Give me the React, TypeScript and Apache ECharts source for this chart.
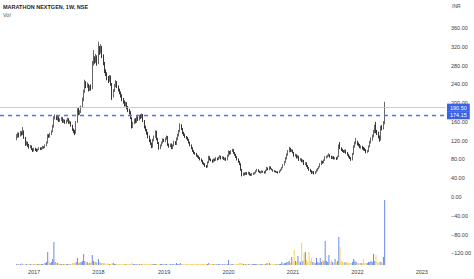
import React, { useEffect, useRef } from "react";
import * as echarts from "echarts";

const TITLE = "MARATHON NEXTGEN, 1W, NSE";
const VOL_LABEL = "Vol";
const CURRENCY = "INR";
const FIRST_CANDLE_DATE = "2016-09-26";
const PAD_WEEKS = 13;
const TOTAL_WEEKS = 360;
const FIRST_OPEN = 125;
const LAST_PRICE = 190.5;
const LEVEL_PRICE = 174.15;

const closes = [
  128,135,130,138,134,140,126,112,116,110,
  106,108,102,99,103,100,98,101,104,102,
  104,106,105,110,115,131,128,134,139,150,
  168,172,166,170,162,165,168,160,163,158,
  162,166,158,160,152,143,140,136,160,185,
  178,181,192,207,225,243,236,239,228,235,
  232,285,295,290,299,285,315,310,320,300,
  285,267,262,254,248,256,240,215,228,238,
  245,235,228,222,215,207,203,196,200,190,
  185,180,168,149,158,164,160,170,166,172,
  170,175,162,149,142,136,128,120,114,107,
  122,128,139,124,115,104,110,116,122,120,
  125,128,111,108,112,104,110,117,113,124,
  132,140,153,145,136,132,128,125,122,116,
  110,104,98,94,92,88,86,83,80,77,
  72,70,66,64,74,85,80,78,75,80,
  78,83,80,83,86,82,85,80,82,79,
  88,96,92,98,100,94,90,85,80,75,
  70,58,47,50,48,51,49,52,48,47,
  49,50,51,55,58,54,52,53,55,53,
  51,56,62,58,64,60,58,55,54,53,
  53,52,55,58,62,68,75,82,90,97,
  104,98,100,95,88,90,84,87,79,80,
  76,78,70,72,66,62,58,55,51,53,
  50,53,57,60,64,70,75,73,78,84,
  86,88,90,86,83,85,82,83,81,86,
  110,104,100,98,96,99,94,90,86,83,
  79,92,107,115,118,114,111,106,107,104,
  102,100,96,98,108,117,124,130,139,150,
  140,136,128,122,149,146,158,190.5,
];

const highs = [
  134,138,137,141,140,149,142,128,119,118,
  113,111,110,104,105,105,103,103,106,106,
  106,109,108,112,118,134,134,137,142,154,
  172,176,174,173,172,168,171,170,166,165,
  165,169,168,163,161,154,146,143,162,189,
  190,185,195,212,229,250,247,244,241,238,
  240,290,313,300,305,302,331,322,326,322,
  304,288,272,266,258,260,259,243,230,241,
  249,247,238,231,225,219,211,206,203,202,
  194,188,183,170,160,167,168,174,172,175,
  176,178,177,164,152,145,139,131,123,116,
  124,131,142,141,126,117,112,118,125,124,
  127,131,130,114,114,114,112,120,119,127,
  135,143,157,155,147,139,135,130,128,124,
  118,112,106,100,96,94,90,88,85,82,
  79,74,72,68,76,88,87,82,80,82,
  82,85,84,86,89,88,87,86,84,84,
  90,99,98,100,103,102,96,92,87,82,
  77,72,60,52,52,53,53,54,53,50,
  51,52,53,57,60,59,56,55,57,56,
  55,58,64,63,66,65,61,59,57,56,
  55,55,57,60,64,70,77,85,93,100,
  107,105,102,101,96,92,91,89,88,83,
  82,80,79,74,74,68,64,60,57,55,
  55,55,59,62,66,72,78,77,80,87,
  88,90,93,91,88,87,87,85,85,88,
  112,117,106,103,100,101,101,96,92,88,
  85,94,110,118,126,120,116,113,110,109,
  107,105,102,100,110,120,127,133,143,154,
  160,143,139,131,152,153,162,203,
];

const lows = [
  121,126,127,129,131,132,124,109,110,107,
  103,104,100,96,97,98,96,97,100,100,
  100,102,103,104,108,114,126,127,132,138,
  148,165,164,163,160,160,162,158,158,156,
  156,160,156,156,150,141,136,132,135,158,
  174,175,179,190,204,222,232,233,225,226,
  227,230,280,284,286,280,283,303,306,296,
  281,264,258,249,243,246,237,207,212,224,
  234,232,225,219,212,204,199,193,193,187,
  181,176,166,146,147,155,157,158,162,163,
  166,168,160,146,140,133,125,117,111,104,
  105,119,126,121,113,101,102,108,114,117,
  117,122,109,105,106,102,102,108,111,111,
  121,129,138,143,134,130,126,123,120,114,
  108,102,96,92,90,86,84,81,78,75,
  70,68,64,62,63,72,78,76,73,74,
  76,77,78,79,82,80,81,79,78,77,
  78,86,90,91,96,92,88,83,78,73,
  68,56,44,45,46,47,47,48,46,45,
  45,47,48,50,54,53,51,50,51,52,
  50,50,55,57,57,59,57,54,53,52,
  51,50,51,54,57,61,67,73,80,88,
  95,96,96,93,86,86,82,82,77,77,
  74,74,68,68,64,60,56,53,49,50,
  48,49,52,55,59,63,68,71,72,77,
  82,84,86,84,81,81,80,80,79,80,
  85,102,98,96,94,94,92,88,84,81,
  77,78,90,105,112,110,108,104,103,101,
  99,98,93,94,96,106,114,120,127,136,
  136,132,125,118,120,142,144,155,
];

// weekly volume (relative units)
const volumes = [
  1,1,1,1,2,1,1,1,1,1,
  1,1,1,1,1,1,1,1,1,1,
  1,1,2,2,3,13,4,2,3,6,
  23,3,2,2,1,1,1,1,1,1,
  1,1,1,1,1,2,2,2,3,7,
  3,2,3,4,11,4,2,3,2,2,
  3,10,4,3,3,2,6,3,2,2,
  2,2,1,2,1,1,1,2,2,1,
  1,1,1,1,1,1,1,1,1,1,
  1,1,1,2,1,1,1,1,1,1,
  1,1,1,1,1,1,1,1,1,1,
  1,1,1,1,1,1,1,1,1,1,
  1,1,1,1,1,1,1,1,1,2,
  1,1,2,1,1,1,1,1,1,1,
  1,1,1,1,1,1,1,1,1,1,
  1,1,1,1,1,2,1,1,1,1,
  1,1,1,1,1,1,1,1,1,1,
  1,5,1,1,1,1,1,1,1,1,
  2,2,2,1,1,1,1,1,1,1,
  1,1,1,1,1,1,1,1,1,1,
  1,1,2,1,2,1,1,1,1,1,
  1,1,1,1,3,1,2,2,3,3,
  4,2,8,3,15,4,3,9,4,3,
  22,4,12,13,5,3,13,4,7,3,
  3,2,7,3,2,7,3,5,4,24,
  4,3,10,3,5,3,2,6,3,4,
  28,18,4,3,2,3,3,2,2,2,
  2,3,6,4,3,2,2,2,2,2,
  6,2,2,2,3,3,4,3,11,4,
  10,3,2,4,3,2,8,65,
];

const Y_MIN = -145;
const Y_MAX = 420;
const LABEL_STEP = 40;
const LABEL_TOP = 360;
const VOL_AXIS_MAX = 265;

const FONT = "'Liberation Sans', Arial, sans-serif";
const UP_COLOR = "#55555a";
const DOWN_COLOR = "#221d1f";
const VOL_UP = "rgba(78,118,236,0.85)";
const VOL_DOWN = "rgba(246,200,70,0.85)";
const LABEL_BG = "#3a62e4";

function buildCategories(): string[] {
  const [y, m, d] = FIRST_CANDLE_DATE.split("-").map(Number);
  const first = Date.UTC(y, m - 1, d);
  const start = first - PAD_WEEKS * 7 * 86400000;
  const out: string[] = [];
  for (let i = 0; i < TOTAL_WEEKS; i++) {
    out.push(new Date(start + i * 7 * 86400000).toISOString().slice(0, 10));
  }
  return out;
}

function fmtPrice(v: number): string {
  const s = Math.abs(v).toFixed(2);
  return v < 0 ? "\u2212" + s : s;
}

export default function App() {
  const ref = useRef<HTMLDivElement>(null);

  useEffect(() => {
    if (!ref.current) return;
    const chart = echarts.init(ref.current, undefined, { renderer: "svg" });
    const categories = buildCategories();

    const candleData = closes.map((c, w) => {
      const o = w === 0 ? FIRST_OPEN : closes[w - 1];
      return [PAD_WEEKS + w, o, c, lows[w], highs[w]];
    });

    const volData: any[] = categories.map(() => "-");
    volumes.forEach((v, w) => {
      const o = w === 0 ? FIRST_OPEN : closes[w - 1];
      const up = closes[w] >= o;
      volData[PAD_WEEKS + w] = {
        value: v,
        itemStyle: { color: up ? VOL_UP : VOL_DOWN },
      };
    });

    const lineLabel = (text: string) => ({
      show: true,
      position: "end",
      distance: 1,
      formatter: text,
      color: "#ffffff",
      backgroundColor: LABEL_BG,
      padding: [1.2, 3, 0.8, 3],
      fontSize: 5.5,
      fontFamily: FONT,
    });

    chart.setOption({
      animation: false,
      backgroundColor: "#ffffff",
      grid: { left: 0, right: 26, top: 0, bottom: 14 },
      xAxis: {
        type: "category",
        data: categories,
        boundaryGap: true,
        axisLine: { show: false },
        axisTick: { show: false },
        splitLine: { show: false },
        axisLabel: {
          interval: (_i: number, val: string) =>
            val.slice(5, 7) === "01" && Number(val.slice(8, 10)) <= 7,
          formatter: (val: string) => val.slice(0, 4),
          fontSize: 5.5,
          color: "#3c3c3c",
          fontFamily: FONT,
          margin: 4,
        },
      },
      yAxis: [
        {
          type: "value",
          position: "right",
          min: Y_MIN,
          max: Y_MAX,
          interval: 5,
          axisLine: { show: false },
          axisTick: { show: false },
          splitLine: { show: false },
          axisLabel: {
            formatter: (v: number) => {
              const r = Math.round(v);
              return Math.abs(v - r) < 1e-6 &&
                r % LABEL_STEP === 0 &&
                r <= LABEL_TOP
                ? fmtPrice(r)
                : "";
            },
            fontSize: 5.5,
            color: "#3c3c3c",
            fontFamily: FONT,
            margin: 5,
          },
        },
        {
          type: "value",
          min: 0,
          max: VOL_AXIS_MAX,
          show: false,
        },
      ],
      series: [
        {
          type: "bar",
          yAxisIndex: 1,
          data: volData,
          barWidth: 1,
          silent: true,
        },
        {
          type: "candlestick",
          data: candleData,
          encode: { x: 0, y: [1, 2, 3, 4] },
          barWidth: 1,
          itemStyle: {
            color: UP_COLOR,
            color0: DOWN_COLOR,
            borderColor: UP_COLOR,
            borderColor0: DOWN_COLOR,
            borderWidth: 0.9,
          },
          markLine: {
            silent: true,
            symbol: ["none", "none"],
            data: [
              {
                yAxis: LAST_PRICE,
                lineStyle: { color: "#b4c0ee", width: 0.8, type: "solid" },
                label: lineLabel(LAST_PRICE.toFixed(2)),
              },
              {
                yAxis: LEVEL_PRICE,
                lineStyle: { color: "#5a6fe6", width: 1.3, type: [4, 4] },
                label: lineLabel(LEVEL_PRICE.toFixed(2)),
              },
            ],
          },
        },
      ],
      graphic: [
        {
          type: "text",
          left: 3,
          top: 4,
          style: {
            text: TITLE,
            fontSize: 5.5,
            fontWeight: "bold",
            fill: "#1e1e1e",
            fontFamily: FONT,
          },
        },
        {
          type: "text",
          left: 3,
          top: 12,
          style: {
            text: VOL_LABEL,
            fontSize: 5.5,
            fill: "#555555",
            fontFamily: FONT,
          },
        },
        {
          type: "text",
          left: 452,
          top: 3,
          style: {
            text: CURRENCY,
            fontSize: 5,
            fill: "#444444",
            fontFamily: FONT,
          },
        },
      ],
    });

    return () => chart.dispose();
  }, []);

  return (
    <div
      ref={ref}
      style={{
        width: 474,
        height: 279,
        position: "absolute",
        left: 0,
        top: 0,
        background: "#ffffff",
      }}
    />
  );
}
